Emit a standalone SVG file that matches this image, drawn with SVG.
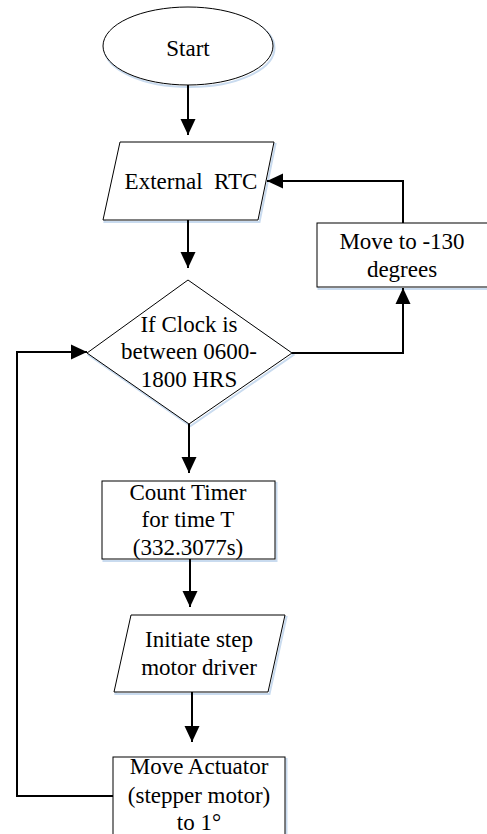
<svg xmlns="http://www.w3.org/2000/svg" width="487" height="834" viewBox="0 0 487 834">
<style>
.shape{fill:#fff;stroke:#000;stroke-width:1}
.sh{fill:none;stroke:#c9dbef;stroke-width:2}
.t{font-family:"Liberation Serif","Times New Roman",serif;font-size:23px;fill:#000;text-anchor:middle}
.c{fill:none;stroke:#000;stroke-width:2;marker-end:url(#ah)}
</style>
<defs>
<marker id="ah" markerUnits="userSpaceOnUse" markerWidth="16" markerHeight="16" refX="16" refY="8" orient="auto">
<path d="M0,0.5 L16,8 L0,15.5 z" fill="#000"/>
</marker>
</defs>
<rect width="487" height="834" fill="#fff"/>
<g id="start">
<ellipse class="sh" cx="189.5" cy="48" rx="85" ry="39"/>
<ellipse class="shape" cx="188" cy="46" rx="85" ry="39"/>
<text class="t" x="188" y="56">Start</text>
</g>
<g id="rtc">
<polygon class="sh" points="121.5,144 275.5,144 259.5,222 104.5,222"/>
<polygon class="shape" points="120,142 274,142 258,220 103,220"/>
<text class="t" x="191" y="189">External&#160; RTC</text>
</g>
<g id="decision">
<polygon class="sh" points="189.5,282 293.5,355 190.5,426 88.5,355"/>
<polygon class="shape" points="188,280 292,353 189,424 87,353"/>
<text class="t" x="189" y="332">If Clock is</text>
<text class="t" x="189" y="359">between 0600-</text>
<text class="t" x="189" y="387">1800 HRS</text>
</g>
<g id="move130">
<rect class="sh" x="318.5" y="225" width="172" height="64"/>
<rect class="shape" x="317" y="223" width="172" height="64"/>
<text class="t" x="402" y="249">Move to -130</text>
<text class="t" x="402" y="277">degrees</text>
</g>
<g id="timer">
<rect class="sh" x="103.5" y="483" width="173" height="78"/>
<rect class="shape" x="102" y="481" width="173" height="78"/>
<text class="t" x="188" y="500">Count Timer</text>
<text class="t" x="188" y="527">for time T</text>
<text class="t" x="188" y="555">(332.3077s)</text>
</g>
<g id="initiate">
<polygon class="sh" points="132.5,617 286.5,617 269.5,694 115.5,694"/>
<polygon class="shape" points="131,615 285,615 268,692 114,692"/>
<text class="t" x="199" y="647">Initiate step</text>
<text class="t" x="199" y="675">motor driver</text>
</g>
<g id="actuator">
<rect class="sh" x="114.5" y="759" width="172" height="90"/>
<rect class="shape" x="113" y="757" width="172" height="90"/>
<text class="t" x="199" y="774">Move Actuator</text>
<text class="t" x="199" y="803">(stepper motor)</text>
<text class="t" x="199" y="830">to 1°</text>
</g>
<g id="connectors">
<path class="c" d="M188,85 V135"/>
<path class="c" d="M188,220 V268"/>
<path class="c" d="M292,353 H403 V288"/>
<path class="c" d="M403,223 V181 H267"/>
<path class="c" d="M189,424 V473"/>
<path class="c" d="M190,559 V607"/>
<path class="c" d="M192,692 V742"/>
<path class="c" d="M113,796 H17 V352 H87"/>
</g>
</svg>
